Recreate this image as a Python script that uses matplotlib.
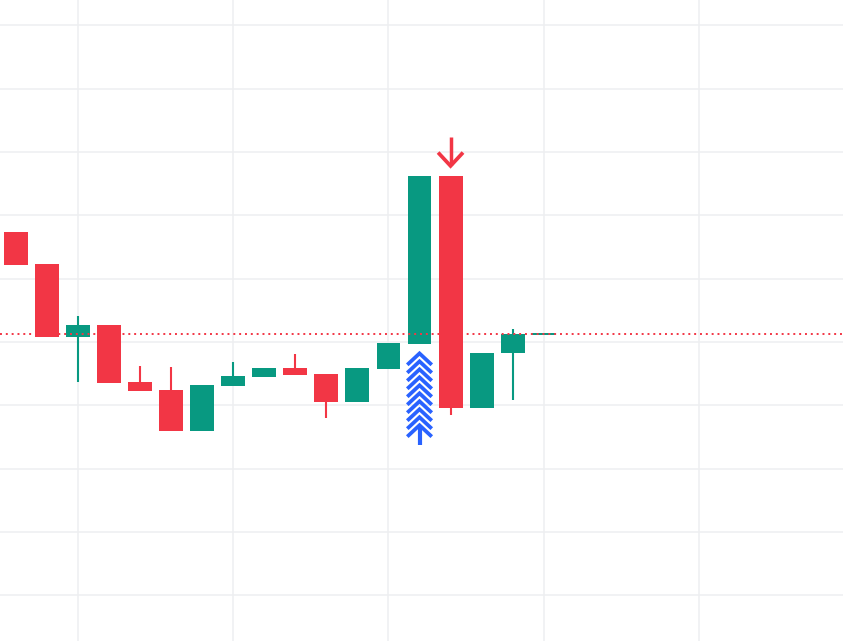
import numpy as np
from matplotlib import pyplot as plt

# candle data (price units, gridlines at whole numbers)
opens  = [11.74, 11.23, 10.08, 10.27, 9.37, 9.24, 8.60, 9.31, 9.45, 9.59, 9.50, 9.06, 9.58, 9.97, 12.62, 8.96, 9.82, 10.11]
closes = [11.22, 10.08, 10.27, 9.36, 9.23, 8.60, 9.32, 9.46, 9.59, 9.48, 9.06, 9.59, 9.98, 12.62, 8.96, 9.83, 10.13, 10.13]
highs  = [11.74, 11.23, 10.41, 10.27, 9.62, 9.61, 9.32, 9.68, 9.59, 9.81, 9.50, 9.59, 9.98, 12.62, 12.62, 9.83, 10.21, 10.13]
lows   = [11.22, 10.08, 9.37, 9.36, 9.23, 8.60, 8.60, 9.31, 9.45, 9.48, 8.80, 9.06, 9.58, 9.97, 8.85, 8.96, 9.08, 10.11]
last_price = 10.126
buy_idx = 13
sell_idx = 14

green = '#089981'
red = '#F23645'
blue = '#2962FF'

fig = plt.figure(figsize=(8.43, 6.41), dpi=100)
ax = fig.add_axes([0, 0, 1, 1])

x = np.arange(len(opens))
o = np.array(opens); c = np.array(closes)
cols = [green if cc >= oo else red for oo, cc in zip(o, c)]
body_lo = np.minimum(o, c)
body_h = np.maximum(np.abs(c - o), 0.025)

ax.vlines(x, lows, highs, colors=cols, lw=1.5, zorder=2)
ax.bar(x, body_h, bottom=body_lo, width=0.77, color=cols, zorder=3)

# last price line
ax.axhline(last_price, color=red, lw=1.4, ls=(0, (1, 2)), zorder=4)

# buy marker: stacked chevrons + shaft
bx = buy_idx
top = min(opens[bx], closes[bx]) - 0.15
hw, hh, step = 0.35, 0.16, 0.126
for k in range(10):
    ap = top - k * step
    ax.plot([bx - hw, bx, bx + hw], [ap - hh, ap, ap - hh], color=blue, lw=2.7,
            solid_joinstyle='miter', zorder=5)
shaft_top = top - 9 * step
ax.plot([bx, bx], [shaft_top - 0.02, shaft_top - 0.32], color=blue, lw=3, solid_capstyle='butt', zorder=5)

# sell marker: down arrow
sx = sell_idx
tip = highs[sx] + 0.16
ax.plot([sx, sx], [tip + 0.01, tip + 0.45], color=red, lw=2.5, solid_capstyle='butt', zorder=5)
ax.plot([sx - 0.36, sx, sx + 0.36], [tip + 0.19, tip, tip + 0.19], color=red, lw=2.7,
        solid_joinstyle='miter', zorder=5)

ax.set_xlim(-0.512, 26.64)
ax.set_ylim(5.279, 15.40)
ax.set_xticks(np.arange(2, 27, 5))
ax.set_yticks(np.arange(6, 16, 1))
ax.grid(True, color='#eeeff1', lw=1.1, zorder=0)
ax.set_axisbelow(True)
ax.tick_params(length=0, labelbottom=False, labelleft=False)
for s in ax.spines.values():
    s.set_visible(False)

fig.savefig('out.png', dpi=100)
